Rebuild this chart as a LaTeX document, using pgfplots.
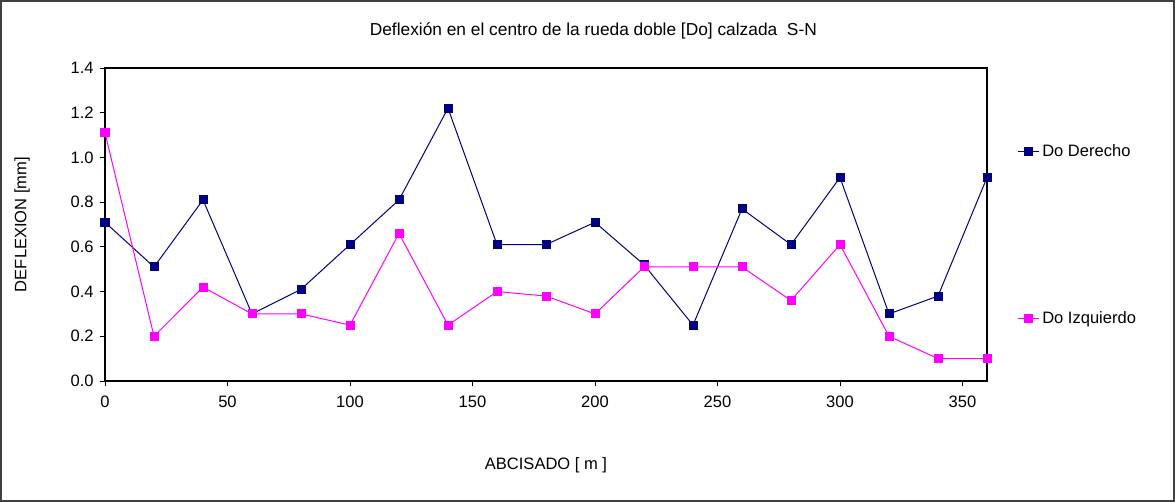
\documentclass[border=0pt]{standalone}
\usepackage{pgfplots}
\pgfplotsset{compat=1.18}
\usepackage{fontspec}
\setmainfont{Liberation Sans}
\definecolor{navyc}{HTML}{000080}
\definecolor{magc}{HTML}{FF00FF}
\definecolor{framec}{HTML}{404040}
\begin{document}
\begin{tikzpicture}[x=1pt,y=1pt]
\path[use as bounding box] (0,0) rectangle (881.25,376.5);
\draw[framec, line width=1pt] (0.75,0.75) rectangle (880.5,375.75);
\node[font=\fontsize{13}{15}\selectfont] at (445,353.5) {Deflexión en el centro de la rueda doble [Do] calzada\ \ S-N};
\begin{axis}[
  at={(78.75pt,90.75pt)}, anchor=south west,
  scale only axis, width=661.5pt, height=234.75pt,
  xmin=0, xmax=360, ymin=0, ymax=1.4,
  xtick={0,50,...,350}, ytick={0,0.2,...,1.4},
  tick align=outside, tick pos=left,
  major tick length=4pt,
  tick style={black, line width=0.6pt},
  axis line style={black, line width=0.9pt},
  /pgf/number format/assume math mode=true,
  yticklabel style={/pgf/number format/fixed, /pgf/number format/fixed zerofill, /pgf/number format/precision=1, xshift=-1pt},
  xticklabel style={/pgf/number format/fixed, yshift=-3.5pt},
  ticklabel style={font=\fontsize{12.4}{14}\selectfont},
  xlabel={ABCISADO [ m ]},
  ylabel={DEFLEXION [mm]},
  label style={font=\fontsize{12.4}{14}\selectfont},
  xlabel style={at={(0.5,0)}, anchor=center, yshift=-63.5pt},
  ylabel style={at={(axis description cs:-0.094,0.5)}, anchor=center},
  clip=false,
  legend cell align=left,
  legend style={draw=none, fill=none, at={(1.034,0.766)}, anchor=north west,
    font=\fontsize{12.4}{14}\selectfont, row sep=111pt, inner sep=0pt,
    /tikz/every even column/.append style={column sep=3pt}},
  legend image code/.code={
    \draw[#1, mark=none] (0pt,0pt) -- (16pt,0pt);
    \draw[#1, only marks] plot coordinates {(8pt,0pt)};
  },
]
\addplot[navyc, line width=0.75pt, mark=square*, mark size=3pt, mark options={solid, fill=navyc}] coordinates {
(0,0.71) (20,0.51) (40,0.81) (60,0.30) (80,0.41) (100,0.61) (120,0.81) (140,1.22)
(160,0.61) (180,0.61) (200,0.71) (220,0.52) (240,0.25) (260,0.77) (280,0.61)
(300,0.91) (320,0.30) (340,0.38) (360,0.91)};
\addlegendentry{Do Derecho}
\addplot[magc, line width=0.75pt, mark=square*, mark size=3pt, mark options={solid, fill=magc}] coordinates {
(0,1.11) (20,0.20) (40,0.42) (60,0.30) (80,0.30) (100,0.25) (120,0.66) (140,0.25)
(160,0.40) (180,0.38) (200,0.30) (220,0.51) (240,0.51) (260,0.51) (280,0.36)
(300,0.61) (320,0.20) (340,0.10) (360,0.10)};
\addlegendentry{Do Izquierdo}
\end{axis}
\end{tikzpicture}
\end{document}
